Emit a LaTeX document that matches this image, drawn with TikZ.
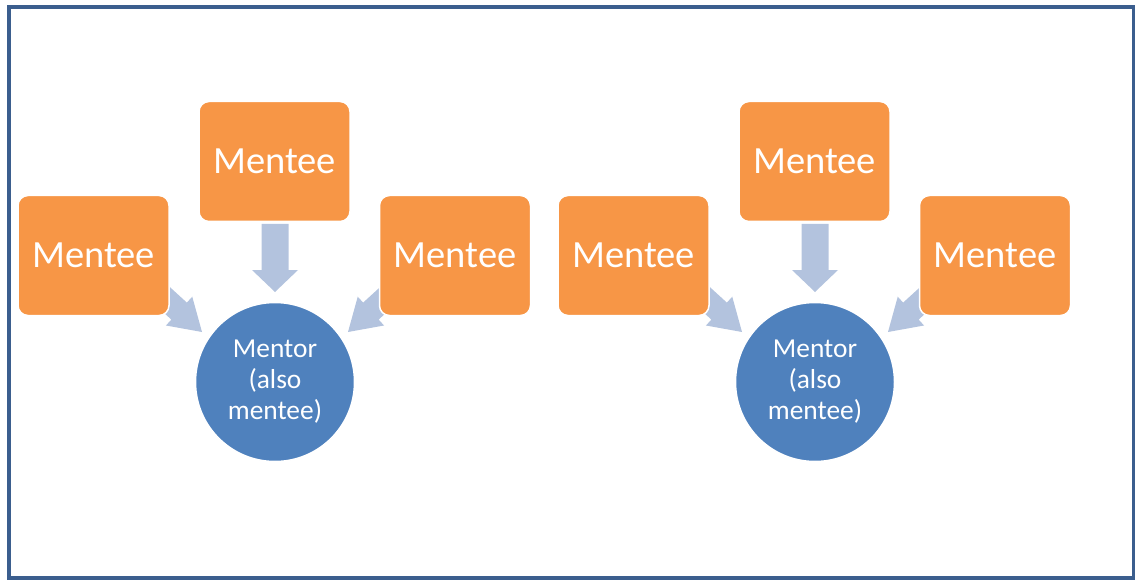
\documentclass[tikz,border=0pt]{standalone}
\usepackage{fontspec}
\setmainfont{Carlito}
\definecolor{framecol}{HTML}{3B5E8E}
\definecolor{menteecol}{HTML}{F79646}
\definecolor{mentorcol}{HTML}{4F81BD}
\definecolor{arrowcol}{HTML}{B3C3DE}
% #1 tip x (px), #2 tip y (px), #3 angle, #4 length, #5 head length, #6 head half width, #7 shaft half width
\newcommand{\blockarrow}[7]{%
  \fill[arrowcol, shift={(#1,-#2)}, rotate=#3]
    (0,0) -- (-#5,#6) -- (-#5,#7) -- (-#4,#7) -- (-#4,-#7) -- (-#5,-#7) -- (-#5,-#6) -- cycle;}
\tikzset{
  menteebox/.style={rectangle, rounded corners=10pt, fill=menteecol, draw=white, line width=1.5pt,
    minimum width=151pt, minimum height=120pt, inner sep=0pt, text=white,
    font=\fontsize{38.5}{46}\selectfont},
  mentorcircle/.style={circle, fill=mentorcol, draw=white, line width=1.5pt,
    minimum size=159pt, inner sep=0pt, text=white, align=center,
    font=\fontsize{27.4}{31}\selectfont},
}
\begin{document}
\begin{tikzpicture}[x=1pt,y=1pt]
\useasboundingbox (0,0) rectangle (1135,-580);
\draw[framecol, line width=4pt] (8.5,-7) rectangle (1133.5,-578);
\foreach \dx/\g in {0/a,540/b} {
  % arrows (drawn below boxes)
  \blockarrow{275+\dx}{292}{-90}{68}{22}{23}{13.5}
  \blockarrow{202+\dx}{332}{-42.4}{66}{31}{19.5}{11.5}
  \blockarrow{348+\dx}{332}{-137.6}{66}{31}{19.5}{11.5}
  \node[menteebox] (\g left)  at (93.5+\dx,-255.5) {Mentee};
  \node[menteebox] (\g top)   at (274.5+\dx,-161.5) {Mentee};
  \node[menteebox] (\g right) at (455+\dx,-255.5) {Mentee};
  \node[mentorcircle] (\g mentor) at (275+\dx,-382) {Mentor\\(also\\mentee)};
}
\end{tikzpicture}
\end{document}
